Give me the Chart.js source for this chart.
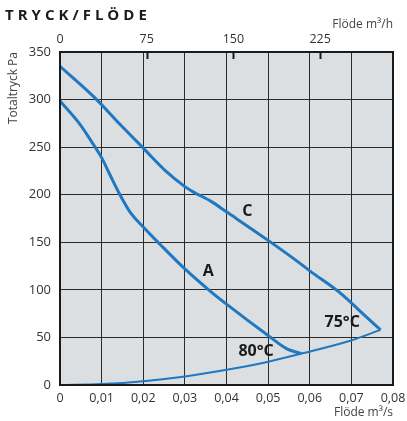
<!DOCTYPE html>
<html>
<head>
<meta charset="utf-8">
<script src="https://cdn.jsdelivr.net/npm/chart.js@4"></script>
<style>
  body { margin: 0; background: #fff; }
  #wrap { width: 407px; height: 421px; }
</style>
</head>
<body>
<div id="wrap"><canvas id="myChart" width="407" height="421"></canvas></div>
<script>
// fan curve C
const cFlow  = [0, 0.0088, 0.0144, 0.02, 0.0255, 0.03, 0.032, 0.0363, 0.04, 0.05, 0.0567, 0.06, 0.0675, 0.072, 0.077];
const cPress = [335, 300, 274, 249, 224.5, 208.5, 203, 193, 182, 152, 131, 120, 96, 78, 58];
// fan curve A
const aFlow  = [0, 0.0048, 0.008, 0.01, 0.012, 0.0144, 0.0168, 0.02, 0.024, 0.03, 0.036, 0.04, 0.05, 0.0545, 0.058];
const aPress = [298.5, 274, 253, 239, 221, 200, 182, 166, 148, 122, 99, 85, 52, 38, 33];
// system curve
const sFlow  = [0, 0.01, 0.02, 0.03, 0.0407, 0.0495, 0.058, 0.0697, 0.077];
const sPress = [0, 1, 4, 9, 16.5, 24, 33, 46.5, 58];

const topTicks = [0, 75, 150, 225];
const curveLabels = [
  { text: 'C', x: 0.045, y: 182 },
  { text: 'A', x: 0.0356, y: 119 },
  { text: '75°C', x: 0.0678, y: 66 },
  { text: '80°C', x: 0.0471, y: 35 }
];

const blue = '#1f78c1';
const toPts = (xs, ys) => xs.map((x, i) => ({ x: x, y: ys[i] }));

const decor = {
  id: 'decor',
  beforeDraw(chart) {
    const { ctx, chartArea: a } = chart;
    ctx.save();
    ctx.fillStyle = '#dcdfe1';
    ctx.fillRect(a.left, a.top, a.right - a.left, a.bottom - a.top);
    ctx.restore();
  },
  afterDraw(chart) {
    const { ctx, chartArea: a, scales } = chart;
    ctx.save();
    ctx.strokeStyle = '#1a1a1a';
    ctx.lineWidth = 2;
    ctx.strokeRect(a.left, a.top, a.right - a.left, a.bottom - a.top);

    // little ticks under the top axis
    topTicks.slice(1).forEach(v => {
      const px = Math.round(scales.x2.getPixelForValue(v)) + 0.5;
      ctx.beginPath();
      ctx.moveTo(px, a.top);
      ctx.lineTo(px, a.top + 7);
      ctx.stroke();
    });

    // curve labels
    ctx.fillStyle = '#1a1a1a';
    ctx.font = 'bold 16px "Open Sans"';
    ctx.textAlign = 'center';
    ctx.textBaseline = 'middle';
    curveLabels.forEach(l => {
      ctx.fillText(l.text, scales.x.getPixelForValue(l.x), scales.y.getPixelForValue(l.y));
    });

    // title
    ctx.textAlign = 'left';
    ctx.textBaseline = 'alphabetic';
    ctx.font = 'bold 15px "Open Sans"';
    ctx.letterSpacing = '4px';
    ctx.fillText('TRYCK/FLÖDE', 5, 20);
    ctx.letterSpacing = '0px';

    // axis titles
    ctx.fillStyle = '#444';
    ctx.font = '12px "Open Sans"';
    ctx.textAlign = 'right';
    ctx.fillText('Flöde m³/h', 393, 28);
    ctx.fillText('Flöde m³/s', 393, 416);

    ctx.translate(17, 52);
    ctx.rotate(-Math.PI / 2);
    ctx.textAlign = 'right';
    ctx.fillText('Totaltryck Pa', 0, 0);
    ctx.restore();
  }
};

const noPad = s => { s.paddingLeft = 0; s.paddingRight = 0; };

const ctx = document.getElementById('myChart').getContext('2d');
new Chart(ctx, {
  type: 'scatter',
  data: {
    datasets: [
      { data: toPts(cFlow, cPress), borderColor: blue, borderWidth: 3, showLine: true, pointRadius: 0, cubicInterpolationMode: 'monotone' },
      { data: toPts(aFlow, aPress), borderColor: blue, borderWidth: 3, showLine: true, pointRadius: 0, cubicInterpolationMode: 'monotone' },
      { data: toPts(sFlow, sPress), borderColor: blue, borderWidth: 2, showLine: true, pointRadius: 0, cubicInterpolationMode: 'monotone' }
    ]
  },
  options: {
    responsive: false,
    animation: false,
    layout: { padding: { left: 0, right: 14, top: 0, bottom: 0 } },
    plugins: { legend: { display: false }, tooltip: { enabled: false } },
    scales: {
      x: {
        type: 'linear', position: 'bottom', min: 0, max: 0.08,
        afterFit: s => { s.height = 36; noPad(s); },
        grid: { color: '#2a2a2a', lineWidth: 1, drawTicks: false },
        border: { display: false },
        ticks: {
          stepSize: 0.01, padding: 6, color: '#333', font: { family: 'Open Sans', size: 12.5 },
          callback: v => v === 0 ? '0' : v.toFixed(2).replace('.', ',')
        }
      },
      x2: {
        type: 'linear', position: 'top', min: 0, max: 288,
        afterFit: s => { s.height = 52; noPad(s); },
        afterBuildTicks: s => { s.ticks = topTicks.map(v => ({ value: v })); },
        grid: { display: false, drawTicks: false },
        border: { display: false },
        ticks: { padding: 5, color: '#333', font: { family: 'Open Sans', size: 12.5 } }
      },
      y: {
        min: 0, max: 350,
        afterFit: s => { s.width = 60; s.paddingTop = 0; s.paddingBottom = 0; },
        grid: { color: '#2a2a2a', lineWidth: 1, drawTicks: false },
        border: { display: false },
        ticks: { stepSize: 50, padding: 9, color: '#333', font: { family: 'Open Sans', size: 13 } }
      }
    }
  },
  plugins: [decor]
});
</script>
</body>
</html>
